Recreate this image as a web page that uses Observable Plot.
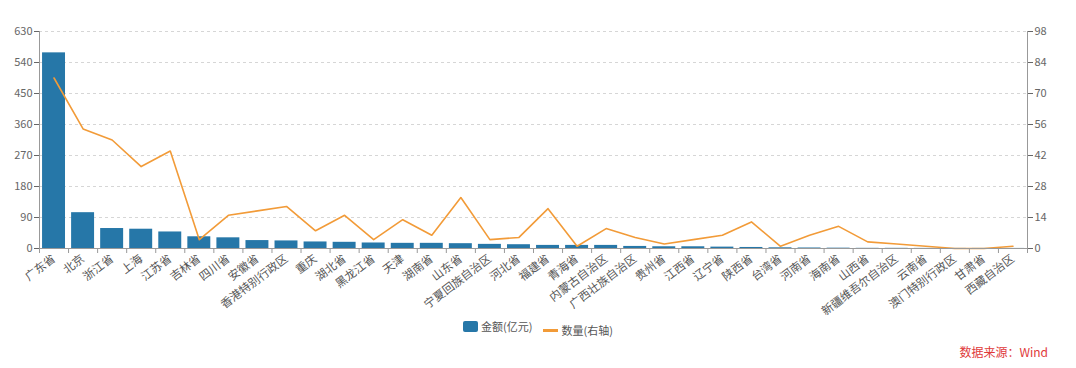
<!DOCTYPE html>
<html><head><meta charset="utf-8">
<script src="https://cdn.jsdelivr.net/npm/d3@7"></script>
<script src="https://cdn.jsdelivr.net/npm/@observablehq/plot@0.6"></script>
<style>
body{margin:0;background:#fff;font-family:"Noto Sans CJK SC","Noto Sans",sans-serif;}
#wrap{position:relative;width:1076px;height:368px;overflow:hidden;}
#chart{position:absolute;top:0;left:0;}
#legend{position:absolute;top:318px;left:0;width:1076px;text-align:center;font-size:11px;color:#555;}
#legend span{display:inline-flex;align-items:center;margin:0 5px;}
.sw{display:inline-block;width:15px;height:11px;background:#2677a8;border-radius:2px;margin-right:3px;}
.ln{display:inline-block;width:15px;height:3px;background:#f29b38;margin-right:4px;}
#source{position:absolute;top:343px;right:28px;font-size:12px;color:#e03a3a;}
</style></head><body><div id="wrap"><div id="chart"></div>
<div id="legend"><span><i class="sw"></i>金额(亿元)</span><span><i class="ln"></i>数量(右轴)</span></div>
<div id="source">数据来源：Wind</div></div>
<script>
const categories = ["广东省","北京","浙江省","上海","江苏省","吉林省","四川省","安徽省","香港特别行政区","重庆","湖北省","黑龙江省","天津","湖南省","山东省","宁夏回族自治区","河北省","福建省","青海省","内蒙古自治区","广西壮族自治区","贵州省","江西省","辽宁省","陕西省","台湾省","河南省","海南省","山西省","新疆维吾尔自治区","云南省","澳门特别行政区","甘肃省","西藏自治区"];
const amounts = [568,104,58,56,48,34,31,23,22,19,18,16,15,15,14,12,11,9,9,9,6,5,5,4,3,2,1.5,1,0.5,0.5,0.3,0.2,0.2,0.2];
const counts = [77,54,49,37,44,4,15,17,19,8,15,4,13,6,23,4,5,18,1,9,5,2,4,6,12,1,6,10,3,2,1,0,0,1];
const leftTicks = [0,90,180,270,360,450,540,630];
const rightTicks = [0,14,28,42,56,70,84,98];
const k = 630 / 98;
const N = categories.length;
const data = categories.map((c, i) => ({i, c, amount: amounts[i], count: counts[i]}));

const chart = Plot.plot({
  width: 1076, height: 324,
  marginTop: 31, marginBottom: 76, marginLeft: 39, marginRight: 49,
  style: {fontFamily: '"Noto Sans CJK SC","Noto Sans",sans-serif', fontSize: "11px", color: "#555", background: "transparent"},
  x: {type: "linear", domain: [0, N], axis: null},
  y: {domain: [0, 630], axis: null},
  marks: [
    Plot.ruleY(leftTicks.slice(1), {stroke: "#d6d6d6", strokeDasharray: "3,3"}),
    Plot.rectY(data, {x1: d => d.i + 0.105, x2: d => d.i + 0.895, y1: 0, y2: "amount", fill: "#2677a8"}),
    Plot.line(data, {x: d => d.i + 0.5, y: d => d.count * k, stroke: "#f29b38", strokeWidth: 1.6}),
    Plot.ruleX([0, N], {stroke: "#999"}),
    Plot.ruleY([0], {stroke: "#999"}),
    Plot.ruleX(d3.range(N + 1), {y1: 0, y2: 0, insetBottom: -5, stroke: "#999"}),
    Plot.axisY(leftTicks, {anchor: "left", label: null, tickSize: 5, tickPadding: 2, color: "#666"}),
    Plot.axisY(rightTicks.map(v => v * k), {anchor: "right", label: null, tickSize: 5, tickPadding: 2, color: "#666", tickFormat: v => Math.round(v / k)}),
    Plot.axisX(d3.range(N).map(i => i + 0.5), {anchor: "bottom", label: null, tickSize: 0, tickPadding: 9, tickRotate: -37, fontSize: 11.5, color: "#555", tickFormat: v => categories[Math.floor(v)]})
  ]
});
document.getElementById("chart").appendChild(chart);
</script></body></html>
